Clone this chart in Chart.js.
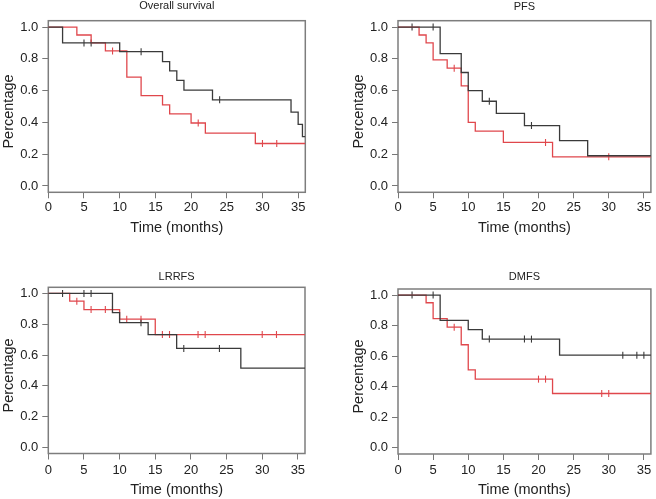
<!DOCTYPE html>
<html>
<head>
<meta charset="utf-8">
<script src="https://cdn.jsdelivr.net/npm/chart.js@4.4.0/dist/chart.umd.min.js"></script>
<style>
  body { margin: 0; background: #fff; }
  #wrap { position: relative; width: 656px; height: 499px; }
  canvas { position: absolute; }
</style>
</head>
<body>
<div id="wrap">
  <canvas id="os" width="328" height="250" style="left:0;top:0"></canvas>
  <canvas id="pfs" width="328" height="250" style="left:328px;top:0"></canvas>
  <canvas id="lrrfs" width="328" height="249" style="left:0;top:250px"></canvas>
  <canvas id="dmfs" width="328" height="249" style="left:328px;top:250px"></canvas>
</div>
<script>
// axes
const xTicks = [0, 5, 10, 15, 20, 25, 30, 35];
const yTicks = [0, 0.2, 0.4, 0.6, 0.8, 1.0];

// Overall survival
const osBlackTime = [0, 2, 10, 16, 17, 18, 19, 23, 34, 35, 35.6, 36];
const osBlackSurv = [1, 0.9, 0.845, 0.783, 0.724, 0.664, 0.603, 0.542, 0.465, 0.387, 0.31, 0.31];
const osBlackCens = [5, 6, 13, 24];
const osRedTime = [0, 4, 6, 8, 11, 13, 16, 17, 20, 22, 29, 36];
const osRedSurv = [1, 0.95, 0.9, 0.85, 0.685, 0.568, 0.51, 0.453, 0.396, 0.333, 0.267, 0.267];
const osRedCens = [9, 21, 30, 32];

// PFS
const pfsBlackTime = [0, 6, 9, 10, 12, 14, 18, 23, 27, 36];
const pfsBlackSurv = [1, 0.833, 0.714, 0.6, 0.533, 0.457, 0.38, 0.285, 0.19, 0.19];
const pfsBlackCens = [2, 5, 13, 19];
const pfsRedTime = [0, 3, 4, 5, 7, 9, 10, 11, 15, 22, 36];
const pfsRedSurv = [1, 0.95, 0.9, 0.794, 0.741, 0.63, 0.4, 0.345, 0.274, 0.183, 0.183];
const pfsRedCens = [8, 21, 30];

// LRRFS
const lrBlackTime = [0, 9, 10, 14, 18, 27, 36];
const lrBlackSurv = [1, 0.875, 0.81, 0.733, 0.643, 0.515, 0.515];
const lrBlackCens = [2, 5, 6, 13, 19, 24];
const lrRedTime = [0, 3, 5, 10, 15, 36];
const lrRedSurv = [1, 0.95, 0.895, 0.833, 0.733, 0.733];
const lrRedCens = [4, 6, 8, 9, 11, 13, 16, 17, 21, 22, 30, 32];

// DMFS
const dmBlackTime = [0, 6, 10, 12, 23, 36];
const dmBlackSurv = [1, 0.835, 0.774, 0.712, 0.607, 0.607];
const dmBlackCens = [2, 5, 13, 18, 19, 32, 34, 35];
const dmRedTime = [0, 4, 5, 7, 9, 10, 11, 22, 36];
const dmRedSurv = [1, 0.95, 0.846, 0.79, 0.675, 0.51, 0.45, 0.356, 0.356];
const dmRedCens = [8, 20, 21, 29, 30];

const BLACK = "#3a3a3a";
const RED = "#e0474c";
const FONT = "'Liberation Sans', Arial, sans-serif";
const TEXT = "#222";

// valeur de la courbe au temps t
function survAt(times, surv, t) {
  let v = surv[0];
  for (let i = 0; i < times.length; i++) {
    if (times[i] <= t) v = surv[i];
  }
  return v;
}

function stepSet(times, surv, color) {
  return {
    data: times.map((t, i) => ({ x: t, y: surv[i] })),
    borderColor: color,
    borderWidth: 1.3,
    stepped: "before",
    pointRadius: 0,
    fill: false,
  };
}

function censSet(times, surv, cens, color) {
  return {
    data: cens.map((t) => ({ x: t, y: survAt(times, surv, t) })),
    showLine: false,
    pointStyle: "line",
    rotation: 90,
    pointRadius: 3.5,
    pointBorderWidth: 1.1,
    pointBorderColor: color,
    borderColor: color,
  };
}

// cadre, titre du panneau et titre de l'axe y
const panelDecor = {
  id: "panelDecor",
  beforeDatasetsDraw(chart) {
    const { ctx, chartArea: a } = chart;
    ctx.save();
    ctx.strokeStyle = "#7d7d7d";
    ctx.lineWidth = 1.5;
    ctx.strokeRect(a.left, a.top, a.right - a.left, a.bottom - a.top);
    ctx.restore();
  },
  afterDraw(chart) {
    const { ctx, chartArea: a } = chart;
    const o = chart.options.plugins.panelDecor;
    ctx.save();
    ctx.fillStyle = TEXT;
    ctx.textAlign = "center";
    ctx.textBaseline = "middle";
    ctx.font = "11px " + FONT;
    ctx.fillText(o.title, (a.left + a.right) / 2, o.titleY);
    ctx.translate(a.left - 39, (a.top + a.bottom) / 2 + 5);
    ctx.rotate(-Math.PI / 2);
    ctx.font = "14.5px " + FONT;
    ctx.fillText("Percentage", 0, 0);
    ctx.restore();
  },
};

function buildPanel(id, p) {
  const ctx = document.getElementById(id).getContext("2d");
  new Chart(ctx, {
    type: "line",
    data: {
      datasets: [
        stepSet(p.bt, p.bs, BLACK),
        stepSet(p.rt, p.rs, RED),
        censSet(p.bt, p.bs, p.bc, BLACK),
        censSet(p.rt, p.rs, p.rc, RED),
      ],
    },
    options: {
      responsive: false,
      animation: false,
      devicePixelRatio: 1,
      layout: { padding: { left: 0, right: p.padRight, top: p.top, bottom: 0 } },
      plugins: {
        legend: { display: false },
        tooltip: { enabled: false },
        panelDecor: { title: p.title, titleY: p.titleY },
      },
      scales: {
        x: {
          type: "linear",
          min: 0,
          max: 36,
          afterBuildTicks: (s) => { s.ticks = xTicks.map((v) => ({ value: v })); },
          afterFit: (s) => { s.height = p.xHeight; },
          ticks: { font: { family: FONT, size: 13 }, color: TEXT, padding: p.xPad, maxRotation: 0, autoSkip: false },
          grid: { drawOnChartArea: false, tickLength: 6, color: "#777" },
          border: { display: false },
          title: {
            display: true,
            text: "Time (months)",
            font: { family: FONT, size: 14.5 },
            color: TEXT,
            padding: { top: 0, bottom: p.xTitlePad },
          },
        },
        y: {
          min: -0.04,
          max: 1.04,
          afterBuildTicks: (s) => { s.ticks = yTicks.map((v) => ({ value: v })); },
          afterFit: (s) => { s.width = p.yWidth; },
          ticks: { font: { family: FONT, size: 13 }, color: TEXT, padding: 4, callback: (v) => v.toFixed(1) },
          grid: { drawOnChartArea: false, tickLength: 6, color: "#777" },
          border: { display: false },
        },
      },
    },
    plugins: [panelDecor],
  });
}

buildPanel("os", {
  title: "Overall survival", titleY: 6, top: 20.7, padRight: 22.7, yWidth: 48.3,
  xHeight: 57.7, xPad: 1.2, xTitlePad: 13,
  bt: osBlackTime, bs: osBlackSurv, bc: osBlackCens,
  rt: osRedTime, rs: osRedSurv, rc: osRedCens,
});
buildPanel("pfs", {
  title: "PFS", titleY: 6.5, top: 20.7, padRight: 4, yWidth: 70,
  xHeight: 57.7, xPad: 1.2, xTitlePad: 13,
  bt: pfsBlackTime, bs: pfsBlackSurv, bc: pfsBlackCens,
  rt: pfsRedTime, rs: pfsRedSurv, rc: pfsRedCens,
});
buildPanel("lrrfs", {
  title: "LRRFS", titleY: 27.3, top: 37.3, padRight: 23, yWidth: 48.3,
  xHeight: 45.5, xPad: 3, xTitlePad: 0.7,
  bt: lrBlackTime, bs: lrBlackSurv, bc: lrBlackCens,
  rt: lrRedTime, rs: lrRedSurv, rc: lrRedCens,
});
buildPanel("dmfs", {
  title: "DMFS", titleY: 27.3, top: 39, padRight: 5, yWidth: 70,
  xHeight: 45, xPad: 3, xTitlePad: 0.7,
  bt: dmBlackTime, bs: dmBlackSurv, bc: dmBlackCens,
  rt: dmRedTime, rs: dmRedSurv, rc: dmRedCens,
});
</script>
</body>
</html>
